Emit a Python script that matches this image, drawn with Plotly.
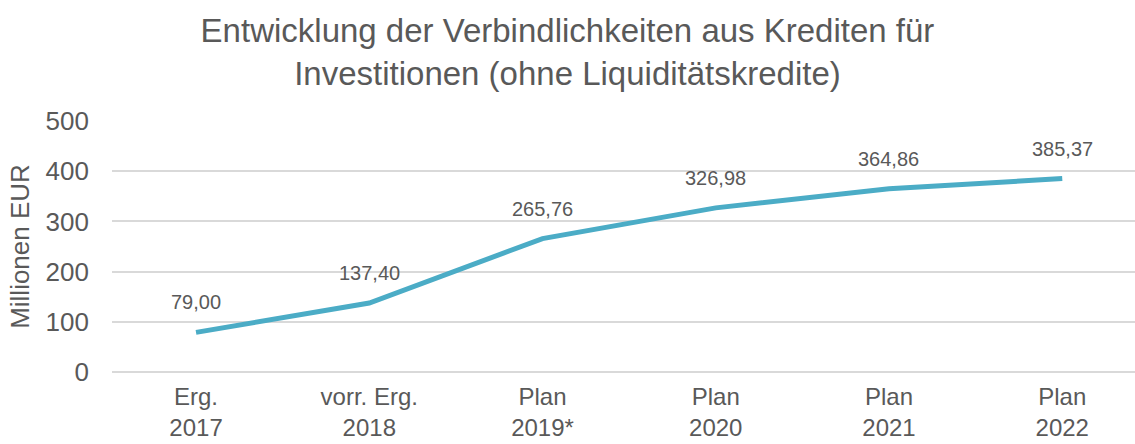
import plotly.graph_objects as go

categories = ["Erg.<br>2017", "vorr. Erg.<br>2018", "Plan<br>2019*", "Plan<br>2020", "Plan<br>2021", "Plan<br>2022"]
values = [79.00, 137.40, 265.76, 326.98, 364.86, 385.37]
value_labels = ["79,00", "137,40", "265,76", "326,98", "364,86", "385,37"]
y_ticks = [0, 100, 200, 300, 400, 500]

TEXT = "#595959"
FONT = "Liberation Sans, Arial, sans-serif"

fig = go.Figure()
fig.add_trace(go.Scatter(
    x=categories, y=values, mode="lines",
    line=dict(color="#4BACC6", width=5),
    hoverinfo="skip", showlegend=False,
))

for c, v, t in zip(categories, values, value_labels):
    fig.add_annotation(x=c, y=v, text=t, showarrow=False, yshift=30,
                       font=dict(size=20, color=TEXT, family=FONT))

fig.update_layout(
    width=1135, height=444,
    margin=dict(l=112, r=0, t=121, b=72),
    paper_bgcolor="white", plot_bgcolor="white",
    font=dict(family=FONT, color=TEXT),
    title=dict(
        text="Entwicklung der Verbindlichkeiten aus Krediten für<br>Investitionen (ohne Liquiditätskredite)",
        x=0.5, xanchor="center", y=0.905, yanchor="middle",
        font=dict(size=33, color=TEXT, family=FONT),
    ),
    xaxis=dict(
        type="category", range=[-0.485, 5.42], automargin=False,
        showgrid=False, zeroline=False, showline=False,
        tickfont=dict(size=24, color=TEXT, family=FONT),
        ticks="", ticklabelstandoff=8,
    ),
    yaxis=dict(
        range=[0, 500], tickvals=y_ticks, automargin=False,
        showgrid=True, gridcolor="#D9D9D9", gridwidth=1.5,
        zeroline=True, zerolinecolor="#D9D9D9", zerolinewidth=1.5,
        showline=False, ticks="",
        tickfont=dict(size=26, color=TEXT, family=FONT),
        ticklabelstandoff=22,
        title=dict(text="Millionen EUR", font=dict(size=26, color=TEXT, family=FONT), standoff=8),
    ),
)

fig.write_html("out.html", config={"displayModeBar": False},
               post_script="document.body.style.margin='0';document.body.style.overflow='hidden';")
